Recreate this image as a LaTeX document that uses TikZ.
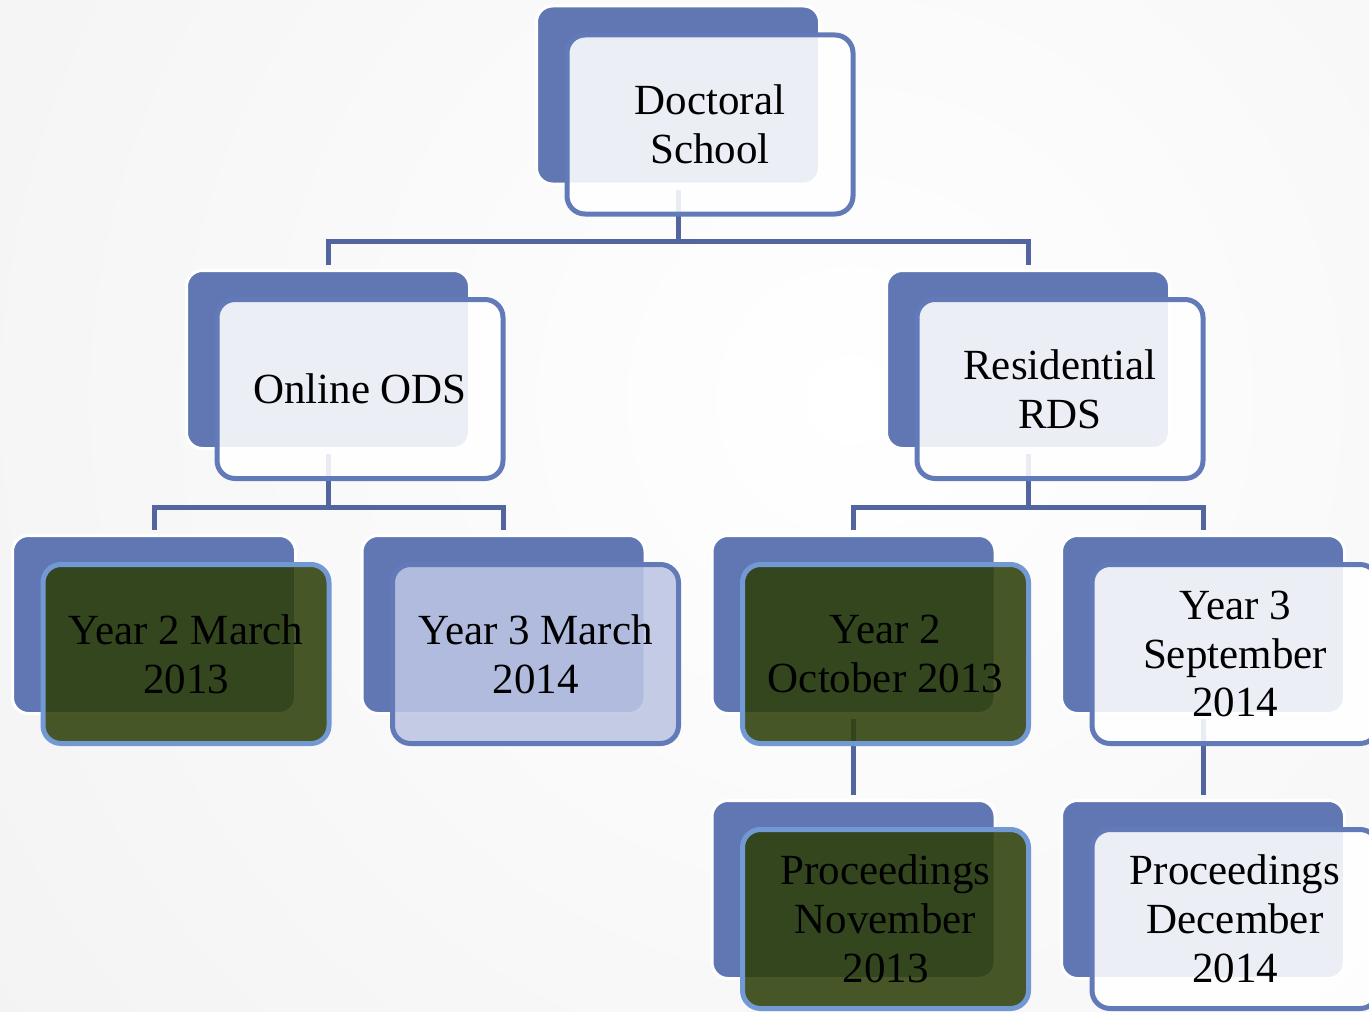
\documentclass[tikz,border=0pt]{standalone}
\usepackage{fontspec}
\setmainfont{Liberation Serif}

\definecolor{backblue}{RGB}{96,119,180}
\definecolor{frameblue}{RGB}{98,122,184}
\definecolor{frameglow}{RGB}{114,153,212}
\definecolor{linkblue}{RGB}{82,101,158}
\definecolor{donegreen}{RGB}{46,64,10}
\definecolor{nextblue}{RGB}{188,197,227}
\definecolor{bggray}{RGB}{236,236,236}

\begin{document}
\begin{tikzpicture}[x=0.5pt,y=-0.5pt,
    back/.style={draw=white,line width=1.5pt,fill=backblue,rounded corners=8pt,
        minimum width=141.5pt,minimum height=89pt,outer sep=2.75pt},
    front/.style={draw=frameblue,line width=2.5pt,fill=white,fill opacity=0.88,text opacity=1,
        rounded corners=9pt,minimum width=143pt,minimum height=89.5pt,align=center,
        inner sep=1pt,font=\fontsize{21.5}{24.4}\selectfont},
    done/.style={front,draw=frameglow,fill=donegreen},
    next/.style={front,fill=nextblue},
    link/.style={draw=linkblue,line width=2.5pt}]

    \useasboundingbox (0,0) rectangle (1369,1011);
    \begin{scope}
        \clip (0,0) rectangle (1369,1011);
        \shade[inner color=white,outer color=bggray] (-850,-1300) rectangle (2550,2100);
    \end{scope}

    \foreach \n/\x/\y in {ds/678/95,ods/328/359.5,rds/1028/359.5,
                          y2m/154/624.5,y3m/503.5/624.5,y2o/853.5/624.5,y3s/1203/624.5,
                          pn/853.5/889.5,pd/1203/889.5}
        \node[back] (\n-b) at (\x,\y) {};

    \draw[link] (ds-b.south) -- ++(0,52) -| (ods-b.north);
    \draw[link] (ds-b.south) -- ++(0,52) -| (rds-b.north);
    \draw[link] (ods-b.south) -- ++(0,53) -| (y2m-b.north);
    \draw[link] (ods-b.south) -- ++(0,53) -| (y3m-b.north);
    \draw[link] (rds-b.south) -- ++(0,53) -| (y2o-b.north);
    \draw[link] (rds-b.south) -- ++(0,53) -| (y3s-b.north);
    \draw[link] (y2o-b.south) -- (pn-b.north);
    \draw[link] (y3s-b.south) -- (pd-b.north);

    \node[front] (ds)  at ([shift={(32,29.5)}]ds-b.center)  {Doctoral\\School};
    \node[front] (ods) at ([shift={(32,29.5)}]ods-b.center) {Online ODS};
    \node[front] (rds) at ([shift={(32,29.5)}]rds-b.center) {Residential\\RDS};
    \node[done]  (y2m) at ([shift={(32,29.5)}]y2m-b.center) {Year 2 March\\2013};
    \node[next]  (y3m) at ([shift={(32,29.5)}]y3m-b.center) {Year 3 March\\2014};
    \node[done]  (y2o) at ([shift={(32,29.5)}]y2o-b.center) {Year 2\\October 2013};
    \node[front] (y3s) at ([shift={(32,29.5)}]y3s-b.center) {Year 3\\September\\2014};
    \node[done]  (pn)  at ([shift={(32,29.5)}]pn-b.center)  {Proceedings\\November\\2013};
    \node[front] (pd)  at ([shift={(32,29.5)}]pd-b.center)  {Proceedings\\December\\2014};
\end{tikzpicture}
\end{document}
